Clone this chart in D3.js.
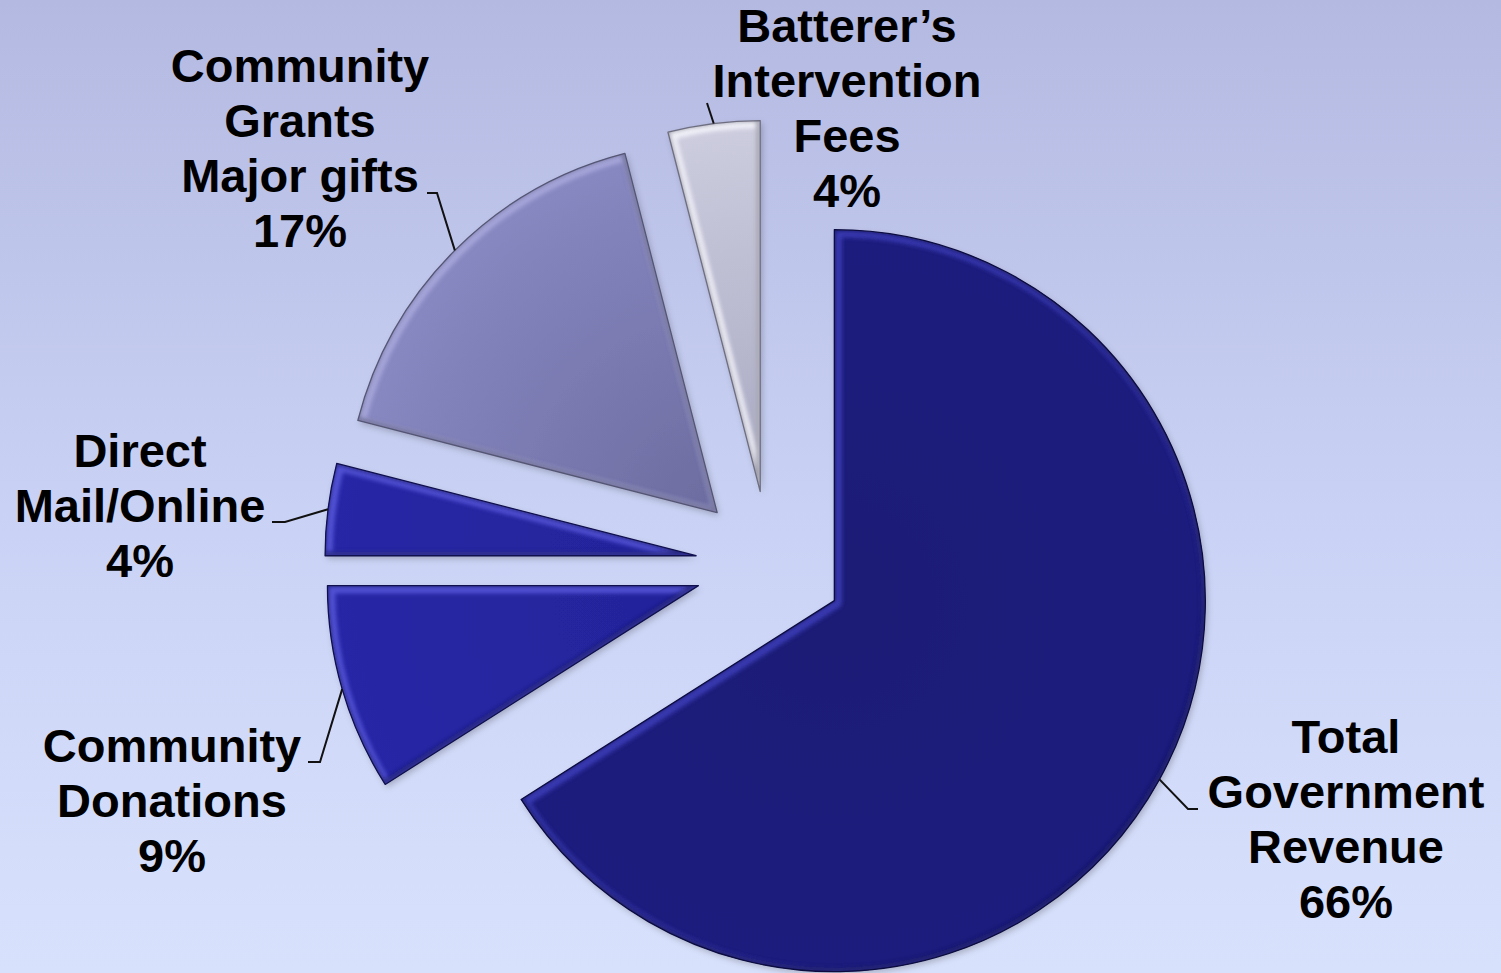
<!DOCTYPE html>
<html>
<head>
<meta charset="utf-8">
<script src="https://cdn.jsdelivr.net/npm/d3@7"></script>
<style>
  html, body { margin: 0; padding: 0; overflow: hidden; }
</style>
</head>
<body>
<svg id="chart" width="1501" height="973"></svg>
<script>
// data
const categories = ["Total Government Revenue", "Community Donations", "Direct Mail/Online",
  "Community Grants Major gifts", "Batterer\u2019s Intervention Fees"];
const values = [66, 9, 4, 17, 4];
const labelLines = [
  ["Total", "Government", "Revenue"],
  ["Community", "Donations"],
  ["Direct", "Mail/Online"],
  ["Community", "Grants", "Major gifts"],
  ["Batterer\u2019s", "Intervention", "Fees"]
];

// look
const baseInner = ["#1c1a76", "#23239a", "#23239a", "#6c6ca0", "#a8a8c2"];
const baseOuter = ["#1e1c7e", "#2828a6", "#2828a6", "#8888c2", "#cdcddf"];
const highlight = ["#3c3cb8", "#5858dc", "#5858dc", "#a8a8dc", "#f4f4fb"];
const outline   = ["#0c0c40", "#10104e", "#10104e", "#555574", "#6e6e80"];

// label layout (text centre, first baseline, leader elbow and end)
const labelLayout = [
  { x: 1346, y: 753, elbow: [1188, 809], end: [1198, 809] },
  { x: 172,  y: 762, elbow: [320, 762],  end: [308, 762] },
  { x: 140,  y: 467, elbow: [285, 522],  end: [272, 522] },
  { x: 300,  y: 82,  elbow: [437, 193],  end: [427, 193] },
  { x: 847,  y: 42,  elbow: [707, 103],  end: [707, 103] }
];

const svg = d3.select("#chart");
const W = 1501, H = 973;
const cx = 769.5, cy = 565;
const radius = 371;
const explode = 74;
const lineH = 55;

const defs = svg.append("defs");

const bg = defs.append("linearGradient").attr("id", "bg")
  .attr("x1", 0).attr("y1", 0).attr("x2", 0).attr("y2", 1);
bg.append("stop").attr("offset", "0%").attr("stop-color", "#b4b9e1");
bg.append("stop").attr("offset", "55%").attr("stop-color", "#cad3f5");
bg.append("stop").attr("offset", "100%").attr("stop-color", "#d8e1fc");

svg.append("rect").attr("width", W).attr("height", H).attr("fill", "url(#bg)");

defs.append("filter").attr("id", "soft")
  .append("feGaussianBlur").attr("stdDeviation", 2);

const shadow = defs.append("filter").attr("id", "shadow")
  .attr("x", "-20%").attr("y", "-20%").attr("width", "140%").attr("height", "140%");
shadow.append("feDropShadow").attr("dx", 2).attr("dy", 3).attr("stdDeviation", 3)
  .attr("flood-color", "#000").attr("flood-opacity", 0.22);

const pie = d3.pie().sort(null).value(d => d);
const arcs = pie(values);
const arc = d3.arc().innerRadius(0).outerRadius(radius);

function offsetOf(d) {
  const mid = (d.startAngle + d.endAngle) / 2;
  return [explode * Math.sin(mid), -explode * Math.cos(mid)];
}

const root = svg.append("g").attr("transform", `translate(${cx},${cy})`);

arcs.forEach((d, i) => {
  const [ox, oy] = offsetOf(d);
  const g = root.append("g").attr("transform", `translate(${ox},${oy})`);

  const grad = defs.append("radialGradient").attr("id", "grad" + i)
    .attr("gradientUnits", "userSpaceOnUse")
    .attr("cx", 0).attr("cy", 0).attr("r", radius);
  grad.append("stop").attr("offset", "0%").attr("stop-color", baseInner[i]);
  grad.append("stop").attr("offset", "100%").attr("stop-color", baseOuter[i]);

  defs.append("clipPath").attr("id", "clip" + i)
    .append("path").attr("d", arc(d));

  g.append("path")
    .attr("d", arc(d))
    .attr("fill", "url(#grad" + i + ")")
    .attr("filter", "url(#shadow)");

  const inner = g.append("g").attr("clip-path", "url(#clip" + i + ")");
  // lit bevel, pushed a little toward the upper-left edges
  inner.append("path")
    .attr("d", arc(d))
    .attr("transform", "translate(2,2)")
    .attr("fill", "none")
    .attr("stroke", highlight[i])
    .attr("stroke-width", 11)
    .attr("stroke-linejoin", "round")
    .attr("opacity", 0.9)
    .attr("filter", "url(#soft)");
  // darker rim on the lower-right edges
  inner.append("path")
    .attr("d", arc(d))
    .attr("transform", "translate(-1.5,-1.5)")
    .attr("fill", "none")
    .attr("stroke", outline[i])
    .attr("stroke-width", 5)
    .attr("opacity", 0.6)
    .attr("filter", "url(#soft)");

  g.append("path")
    .attr("d", arc(d))
    .attr("fill", "none")
    .attr("stroke", outline[i])
    .attr("stroke-width", 1.3)
    .attr("stroke-linejoin", "round");
});

// leader lines
arcs.forEach((d, i) => {
  const [ox, oy] = offsetOf(d);
  const mid = (d.startAngle + d.endAngle) / 2;
  const px = cx + ox + radius * Math.sin(mid);
  const py = cy + oy - radius * Math.cos(mid);
  const L = labelLayout[i];
  svg.append("path")
    .attr("d", d3.line()([[px, py], L.elbow, L.end]))
    .attr("fill", "none")
    .attr("stroke", "#111")
    .attr("stroke-width", 2);
});

// labels
arcs.forEach((d, i) => {
  const L = labelLayout[i];
  const lines = labelLines[i].concat([values[i] + "%"]);
  const t = svg.append("text")
    .attr("text-anchor", "middle")
    .attr("font-family", "'Liberation Sans', Arial, sans-serif")
    .attr("font-weight", "bold")
    .attr("font-size", 47)
    .attr("fill", "#000");
  lines.forEach((s, k) => {
    t.append("tspan").attr("x", L.x).attr("y", L.y + k * lineH).text(s);
  });
});
</script>
</body>
</html>
